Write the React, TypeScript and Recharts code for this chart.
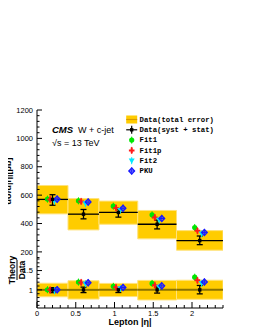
import React from 'react';
import { ComposedChart, Scatter, XAxis, YAxis, ReferenceArea, ReferenceLine, ErrorBar } from 'recharts';

// ---- data ----
const binLo = [0, 0.4, 0.8, 1.3, 1.8];
const binHi = [0.4, 0.8, 1.3, 1.8, 2.4];
const binCenter = [0.2, 0.6, 1.05, 1.55, 2.1];
const dataXsec = [570, 466, 478, 395, 280];
const dataErrLo = [529, 433, 445, 362, 251];
const dataErrHi = [603, 499, 503, 424, 312];
const totalLo = [468, 355, 395, 292, 212];
const totalHi = [668, 576, 558, 492, 350];
const fit1 = [572, 560, 522, 461, 372];
const fit1p = [570, 556, 510, 443, 349];
const fit2 = [558, 541, 494, 425, 328];
const pku = [572, 551, 508, 436, 337];
const theoryOffsets = [-0.065, -0.03, 0.025, 0.06];

const xTicks = [0, 0.5, 1, 1.5, 2];
const xMinorTicks = [0, 0.1, 0.2, 0.3, 0.4, 0.5, 0.6, 0.7, 0.8, 0.9, 1, 1.1, 1.2, 1.3, 1.4, 1.5, 1.6, 1.7, 1.8, 1.9, 2, 2.1, 2.2, 2.3, 2.4];
const yTicks = [200, 400, 600, 800, 1000, 1200];
const yMinorTicks = [160, 200, 240, 280, 320, 360, 400, 440, 480, 520, 560, 600, 640, 680, 720, 760, 800, 840, 880, 920, 960, 1000, 1040, 1080, 1120, 1160, 1200];
const ratioTicks = [1, 1.5];
const ratioMinorTicks = [0.6, 0.7, 0.8, 0.9, 1, 1.1, 1.2, 1.3, 1.4, 1.5, 1.6, 1.7, 1.8];

const legendLabels = ['Data(total error)', 'Data(syst + stat)', 'Fit1', 'Fit1p', 'Fit2', 'PKU'];

const theorySeries = [
  { name: 'Fit1', values: fit1, color: '#00e600', kind: 'circle' },
  { name: 'Fit1p', values: fit1p, color: '#ff1a1a', kind: 'plus' },
  { name: 'Fit2', values: fit2, color: '#00e8ff', kind: 'tri' },
  { name: 'PKU', values: pku, color: '#1a1aff', kind: 'diamond' },
];

// ---- derived tables ----
const dataPoints = binCenter.map((x, i) => ({
  x,
  y: dataXsec[i],
  err: [dataXsec[i] - dataErrLo[i], dataErrHi[i] - dataXsec[i]],
}));
const ratioDataPoints = binCenter.map((x, i) => ({
  x,
  y: 1,
  err: [(dataXsec[i] - dataErrLo[i]) / dataXsec[i], (dataErrHi[i] - dataXsec[i]) / dataXsec[i]],
}));
const theoryPoints = theorySeries.map((s, k) =>
  binCenter.map((c, i) => ({ x: c + theoryOffsets[k], y: s.values[i] }))
);
const theoryRatioPoints = theorySeries.map((s, k) =>
  binCenter.map((c, i) => ({ x: c + theoryOffsets[k], y: s.values[i] / dataXsec[i] }))
);

const FONT = 'Liberation Sans, Arial, Helvetica, sans-serif';
const MONO = 'Liberation Mono, Courier New, monospace';

function Marker({ cx, cy, kind, color }: { cx: number; cy: number; kind: string; color: string }) {
  if (cx == null || cy == null) return null;
  const bar = <line x1={cx} x2={cx} y1={cy - 3.5} y2={cy + 3.5} stroke={color} strokeWidth={1} />;
  if (kind === 'circle') {
    return (
      <g>
        {bar}
        <circle cx={cx} cy={cy} r={2.6} fill={color} />
      </g>
    );
  }
  if (kind === 'plus') {
    return (
      <g>
        {bar}
        <path d={`M${cx - 2.8},${cy}H${cx + 2.8}M${cx},${cy - 2.8}V${cy + 2.8}`} stroke={color} strokeWidth={2} />
      </g>
    );
  }
  if (kind === 'tri') {
    return (
      <g>
        {bar}
        <polygon points={`${cx - 3},${cy - 2.2} ${cx + 3},${cy - 2.2} ${cx},${cy + 3}`} fill={color} />
      </g>
    );
  }
  return (
    <g>
      {bar}
      <polygon
        points={`${cx},${cy - 3} ${cx + 2.8},${cy} ${cx},${cy + 3} ${cx - 2.8},${cy}`}
        fill="none"
        stroke={color}
        strokeWidth={1.4}
      />
      <line x1={cx - 2.8} x2={cx + 2.8} y1={cy} y2={cy} stroke={color} strokeWidth={1.2} />
    </g>
  );
}

const DataMarker = (p: any) => {
  if (p.cx == null) return null;
  return <rect x={p.cx - 1.7} y={p.cy - 1.7} width={3.4} height={3.4} fill="#000" />;
};

type Side = 'left' | 'right' | 'top' | 'bottom';
const makeTick = (
  side: Side,
  majors: number[],
  majorLen: number,
  minorLen: number,
  showLabels: boolean
) => (props: any) => {
  const { x, y, payload } = props;
  const v = payload.value;
  const major = majors.some((m) => Math.abs(m - v) < 1e-6);
  const len = major ? majorLen : minorLen;
  let line;
  if (side === 'left') line = <line x1={x} x2={x + len} y1={y} y2={y} stroke="#000" />;
  else if (side === 'right') line = <line x1={x} x2={x - len} y1={y} y2={y} stroke="#000" />;
  else if (side === 'bottom') line = <line x1={x} x2={x} y1={y} y2={y - len} stroke="#000" />;
  else line = <line x1={x} x2={x} y1={y} y2={y + len} stroke="#000" />;
  let label = null;
  if (showLabels && major) {
    if (side === 'left')
      label = (
        <text x={x - 4} y={y + 2.7} textAnchor="end" fontSize={7.5} fontFamily={FONT} fill="#000">
          {String(v)}
        </text>
      );
    else if (side === 'bottom')
      label = (
        <text x={x} y={y + 8} textAnchor="middle" fontSize={7.5} fontFamily={FONT} fill="#000">
          {String(v)}
        </text>
      );
  }
  return (
    <g>
      {line}
      {label}
    </g>
  );
};

const frame = { stroke: '#000', strokeWidth: 1 };

function TopPanel() {
  return (
    <ComposedChart width={255} height={330} margin={{ top: 110, right: 32, bottom: 71, left: 0 }}>
      <XAxis
        xAxisId="x"
        dataKey="x"
        type="number"
        domain={[0, 2.4]}
        allowDataOverflow
        ticks={xMinorTicks}
        interval={0}
        orientation="bottom"
        height={0}
        tickSize={0}
        tickMargin={0}
        tickLine={false}
        axisLine={frame}
        tick={makeTick('bottom', xTicks, 4, 2, false)}
      />
      <XAxis
        xAxisId="xt"
        type="number"
        domain={[0, 2.4]}
        allowDataOverflow
        orientation="top"
        height={0}
        tick={false}
        tickLine={false}
        axisLine={frame}
      />
      <YAxis
        yAxisId="y"
        dataKey="y"
        type="number"
        domain={[150, 1200]}
        allowDataOverflow
        ticks={yMinorTicks}
        interval={0}
        width={37}
        tickSize={0}
        tickMargin={0}
        tickLine={false}
        axisLine={frame}
        tick={makeTick('left', yTicks, 5, 2.5, true)}
      />
      <YAxis
        yAxisId="yr"
        type="number"
        domain={[150, 1200]}
        allowDataOverflow
        ticks={yMinorTicks}
        interval={0}
        orientation="right"
        width={0}
        tickSize={0}
        tickMargin={0}
        tickLine={false}
        axisLine={frame}
        tick={makeTick('right', yTicks, 5, 2.5, false)}
      />
      {binLo.map((lo, i) => (
        <ReferenceArea
          key={`band${i}`}
          xAxisId="x"
          yAxisId="y"
          x1={lo}
          x2={binHi[i]}
          y1={totalLo[i]}
          y2={totalHi[i]}
          fill="#ffcc00"
          fillOpacity={1}
          stroke="#ffe27a"
          strokeWidth={1}
          ifOverflow="hidden"
        />
      ))}
      {binLo.map((lo, i) => (
        <ReferenceLine
          key={`cl${i}`}
          xAxisId="x"
          yAxisId="y"
          segment={[
            { x: lo, y: dataXsec[i] },
            { x: binHi[i], y: dataXsec[i] },
          ]}
          stroke="#000"
          strokeWidth={1.3}
        />
      ))}
      {theorySeries.map((s, k) => (
        <Scatter
          key={s.name}
          name={s.name}
          xAxisId="x"
          yAxisId="y"
          data={theoryPoints[k]}
          isAnimationActive={false}
          shape={(p: any) => <Marker cx={p.cx} cy={p.cy} kind={s.kind} color={s.color} />}
        />
      ))}
      <Scatter
        name="Data"
        xAxisId="x"
        yAxisId="y"
        data={dataPoints}
        isAnimationActive={false}
        shape={DataMarker}
      >
        <ErrorBar dataKey="err" direction="y" width={3} stroke="#000" strokeWidth={1.3} isAnimationActive={false} />
      </Scatter>
    </ComposedChart>
  );
}

function RatioPanel() {
  return (
    <ComposedChart width={255} height={330} margin={{ top: 259, right: 32, bottom: 0, left: 0 }}>
      <XAxis
        xAxisId="x"
        dataKey="x"
        type="number"
        domain={[0, 2.4]}
        allowDataOverflow
        ticks={xMinorTicks}
        interval={0}
        orientation="bottom"
        height={22}
        tickSize={0}
        tickMargin={0}
        tickLine={false}
        axisLine={frame}
        tick={makeTick('bottom', xTicks, 6, 3, true)}
      />
      <XAxis
        xAxisId="xt"
        type="number"
        domain={[0, 2.4]}
        allowDataOverflow
        ticks={xMinorTicks}
        interval={0}
        orientation="top"
        height={0}
        tickSize={0}
        tickMargin={0}
        tickLine={false}
        axisLine={frame}
        tick={makeTick('top', xTicks, 6, 3, false)}
      />
      <YAxis
        yAxisId="y"
        dataKey="y"
        type="number"
        domain={[0.53, 1.8]}
        allowDataOverflow
        ticks={ratioMinorTicks}
        interval={0}
        width={37}
        tickSize={0}
        tickMargin={0}
        tickLine={false}
        axisLine={frame}
        tick={makeTick('left', ratioTicks, 5, 2.5, true)}
      />
      <YAxis
        yAxisId="yr"
        type="number"
        domain={[0.53, 1.8]}
        allowDataOverflow
        ticks={ratioMinorTicks}
        interval={0}
        orientation="right"
        width={0}
        tickSize={0}
        tickMargin={0}
        tickLine={false}
        axisLine={frame}
        tick={makeTick('right', ratioTicks, 5, 2.5, false)}
      />
      {binLo.map((lo, i) => (
        <ReferenceArea
          key={`rband${i}`}
          xAxisId="x"
          yAxisId="y"
          x1={lo}
          x2={binHi[i]}
          y1={totalLo[i] / dataXsec[i]}
          y2={totalHi[i] / dataXsec[i]}
          fill="#ffcc00"
          fillOpacity={1}
          stroke="#ffe27a"
          strokeWidth={1}
          ifOverflow="hidden"
        />
      ))}
      {binLo.map((lo, i) => (
        <ReferenceLine
          key={`rl${i}`}
          xAxisId="x"
          yAxisId="y"
          segment={[
            { x: lo, y: 1 },
            { x: binHi[i], y: 1 },
          ]}
          stroke="#8a7200"
          strokeWidth={2}
        />
      ))}
      {theorySeries.map((s, k) => (
        <Scatter
          key={s.name}
          name={s.name}
          xAxisId="x"
          yAxisId="y"
          data={theoryRatioPoints[k]}
          isAnimationActive={false}
          shape={(p: any) => <Marker cx={p.cx} cy={p.cy} kind={s.kind} color={s.color} />}
        />
      ))}
      <Scatter
        name="Data"
        xAxisId="x"
        yAxisId="y"
        data={ratioDataPoints}
        isAnimationActive={false}
        shape={DataMarker}
      >
        <ErrorBar dataKey="err" direction="y" width={3} stroke="#000" strokeWidth={1.3} isAnimationActive={false} />
      </Scatter>
    </ComposedChart>
  );
}

function LegendIcon({ i, cx, cy }: { i: number; cx: number; cy: number }) {
  if (i === 0) {
    return (
      <g>
        <rect x={cx - 5.5} y={cy - 4} width={11} height={8} fill="#ffcc00" />
        <line x1={cx - 5.5} x2={cx + 5.5} y1={cy} y2={cy} stroke="#d99a00" strokeWidth={1.2} />
      </g>
    );
  }
  if (i === 1) {
    return (
      <g>
        <line x1={cx - 5.5} x2={cx + 5.5} y1={cy} y2={cy} stroke="#000" strokeWidth={1.2} />
        <line x1={cx} x2={cx} y1={cy - 4} y2={cy + 4} stroke="#000" strokeWidth={1.2} />
        <rect x={cx - 1.7} y={cy - 1.7} width={3.4} height={3.4} fill="#000" />
      </g>
    );
  }
  const s = theorySeries[i - 2];
  return <Marker cx={cx} cy={cy} kind={s.kind} color={s.color} />;
}

function Overlay() {
  return (
    <svg
      width={255}
      height={330}
      style={{ position: 'absolute', left: 0, top: 0, pointerEvents: 'none' }}
    >
      <text x={52} y={133} fontFamily={FONT} fontSize={9.5} fontWeight="bold" fontStyle="italic" fill="#000">
        CMS
      </text>
      <text x={78} y={133} fontFamily={FONT} fontSize={9} fill="#000">
        W + c-jet
      </text>
      <text x={52} y={146} fontFamily={FONT} fontSize={9} fill="#000">
        √s = 13 TeV
      </text>
      {legendLabels.map((lab, i) => {
        const cy = 119.5 + i * 10.3;
        return (
          <g key={lab}>
            <LegendIcon i={i} cx={131.7} cy={cy} />
            <text
              x={139.5}
              y={cy + 2.3}
              fontFamily={MONO}
              fontSize={7.3}
              fontWeight="bold"
              fill="#000"
            >
              {lab}
            </text>
          </g>
        );
      })}
      <text
        transform="translate(10.5,181) rotate(-90)"
        textAnchor="middle"
        fontFamily={FONT}
        fontSize={9}
        fontWeight="bold"
        fill="#000"
      >
        dσ/d|η|[pb]
      </text>
      <g transform="translate(17,270) rotate(-90)">
        <text x={0} y={-2} textAnchor="middle" fontFamily={FONT} fontSize={8.5} fontWeight="bold" fill="#000">
          Theory
        </text>
        <line x1={-10} x2={10} y1={0} y2={0} stroke="#000" strokeWidth={1} />
        <text x={0} y={7.5} textAnchor="middle" fontFamily={FONT} fontSize={8.5} fontWeight="bold" fill="#000">
          Data
        </text>
      </g>
      <text x={130} y={325} textAnchor="middle" fontFamily={FONT} fontSize={9} fontWeight="bold" fill="#000">
        Lepton |η|
      </text>
    </svg>
  );
}

export default function App() {
  return (
    <div style={{ position: 'relative', width: 255, height: 330, margin: '-8px 0 0 -8px', background: '#fff' }}>
      <div style={{ position: 'absolute', left: 0, top: 0 }}>
        <TopPanel />
      </div>
      <div style={{ position: 'absolute', left: 0, top: 0 }}>
        <RatioPanel />
      </div>
      <Overlay />
    </div>
  );
}
